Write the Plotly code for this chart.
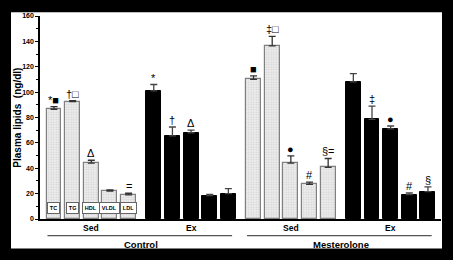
import plotly.graph_objects as go

# ---- data ----
lipids = ["TC", "TG", "HDL", "VLDL", "LDL"]
conditions = ["Sed", "Ex", "Sed", "Ex"]
treatments = ["Control", "Mesterolone"]

ctrl_sed = [86.5, 92.5, 44.0, 22.0, 19.0]
ctrl_sed_err = [2.0, 0.7, 2.3, 1.0, 1.3]
ctrl_ex = [101.0, 65.5, 68.0, 18.5, 20.0]
ctrl_ex_err = [5.0, 7.0, 2.0, 0.8, 4.0]
mest_sed = [110.0, 136.5, 44.0, 27.3, 40.7]
mest_sed_err = [2.8, 7.5, 5.7, 1.8, 7.0]
mest_ex = [108.0, 78.6, 71.0, 19.3, 21.6]
mest_ex_err = [6.6, 10.3, 2.3, 1.3, 3.7]

ctrl_sed_sig = ["*■", "†□", "Δ", "", "="]
ctrl_ex_sig = ["*", "†", "Δ", "", ""]
mest_sed_sig = ["■", "‡□", "●", "#", "§="]
mest_ex_sig = ["", "‡", "●", "#", "§"]

series = [
    (ctrl_sed, ctrl_sed_err, ctrl_sed_sig, "dotted"),
    (ctrl_ex, ctrl_ex_err, ctrl_ex_sig, "black"),
    (mest_sed, mest_sed_err, mest_sed_sig, "dotted"),
    (mest_ex, mest_ex_err, mest_ex_sig, "black"),
]

GROUP_STEP = 5.35
FONT = "Liberation Sans, Arial, DejaVu Sans, sans-serif"

fig = go.Figure()
annotations = []

for g, (vals, errs, sigs, style) in enumerate(series):
    xs = [g * GROUP_STEP + i for i in range(len(vals))]
    if style == "dotted":
        marker = dict(color="white",
                      line=dict(color="#808080", width=1.2),
                      pattern=dict(shape=".", fgcolor="#b8b8b8", bgcolor="#f4f4f4",
                                   size=2.5, solidity=0.5))
        ecol = "#333333"
    else:
        marker = dict(color="black", line=dict(color="black", width=1))
        ecol = "#444444"
    fig.add_trace(go.Bar(
        x=xs, y=vals, width=0.8, marker=marker,
        error_y=dict(type="data", symmetric=False, array=errs,
                     arrayminus=[0] * len(errs), color=ecol,
                     thickness=1.3, width=3.5),
        showlegend=False, hoverinfo="skip",
    ))
    for x, v, e, s in zip(xs, vals, errs, sigs):
        if s:
            annotations.append(dict(
                x=x, y=v + e, xref="x", yref="y", text=s, showarrow=False,
                yanchor="bottom", yshift=-1,
                font=dict(family=FONT, size=11, color="black")))

# lipid labels in boxes at bottom of first group
for i, lab in enumerate(lipids):
    annotations.append(dict(
        x=i, y=9, xref="x", yref="y", text="<b>%s</b>" % lab, showarrow=False,
        font=dict(family=FONT, size=5.5, color="black"),
        bgcolor="white", bordercolor="#666666", borderwidth=1, borderpad=1.8,
        yanchor="middle"))

# condition labels
for g, cond in enumerate(conditions):
    annotations.append(dict(
        x=g * GROUP_STEP + 2, y=-0.045, xref="x", yref="paper",
        text="<b>%s</b>" % cond, showarrow=False, yanchor="middle",
        font=dict(family=FONT, size=8.5, color="black")))

shapes = []
# white panel behind chart (black frame around)
shapes.append(dict(type="rect", xref="paper", yref="paper",
                   x0=-0.0723, x1=1.0025, y0=-0.145, y1=1.019,
                   fillcolor="white", line=dict(width=0), layer="below"))

for t, name in enumerate(treatments):
    start = 2 * t * GROUP_STEP
    shapes.append(dict(type="line", xref="x", yref="paper",
                       x0=start - 0.35, x1=start + GROUP_STEP + 4.2,
                       y0=-0.082, y1=-0.082,
                       line=dict(color="#555555", width=1.3)))
    annotations.append(dict(
        x=start + (GROUP_STEP + 4) / 2, y=-0.126, xref="x", yref="paper",
        text="<b>%s</b>" % name, showarrow=False, yanchor="middle",
        font=dict(family=FONT, size=9.5, color="black")))

# y-axis title
annotations.append(dict(
    x=-0.057, y=0.5, xref="paper", yref="paper", text="<b>Plasma lipids  (ng/dl)</b>",
    textangle=-90, showarrow=False, xanchor="center", yanchor="middle",
    font=dict(family=FONT, size=10, color="black")))

fig.update_layout(
    width=453, height=260,
    margin=dict(l=40, r=12, t=12, b=41),
    paper_bgcolor="black", plot_bgcolor="white",
    bargap=0, barmode="overlay",
    annotations=annotations, shapes=shapes,
    xaxis=dict(range=[-0.75, 3 * GROUP_STEP + 4 + 0.7], showticklabels=False,
               ticks="", showgrid=False, zeroline=False, showline=True,
               linecolor="black", linewidth=1.5, fixedrange=True),
    yaxis=dict(range=[0, 160], tickvals=[0, 20, 40, 60, 80, 100, 120, 140, 160],
               ticks="outside", ticklen=3, tickwidth=1, tickcolor="black",
               minor=dict(tickvals=[10, 30, 50, 70, 90, 110, 130, 150],
                          ticks="outside", ticklen=2, tickcolor="black"),
               showgrid=False, zeroline=False, showline=True, linecolor="black",
               linewidth=1.5,
               tickfont=dict(family=FONT, size=7, color="black", weight="bold"),
               fixedrange=True),
)

fig.write_html("out.html")
